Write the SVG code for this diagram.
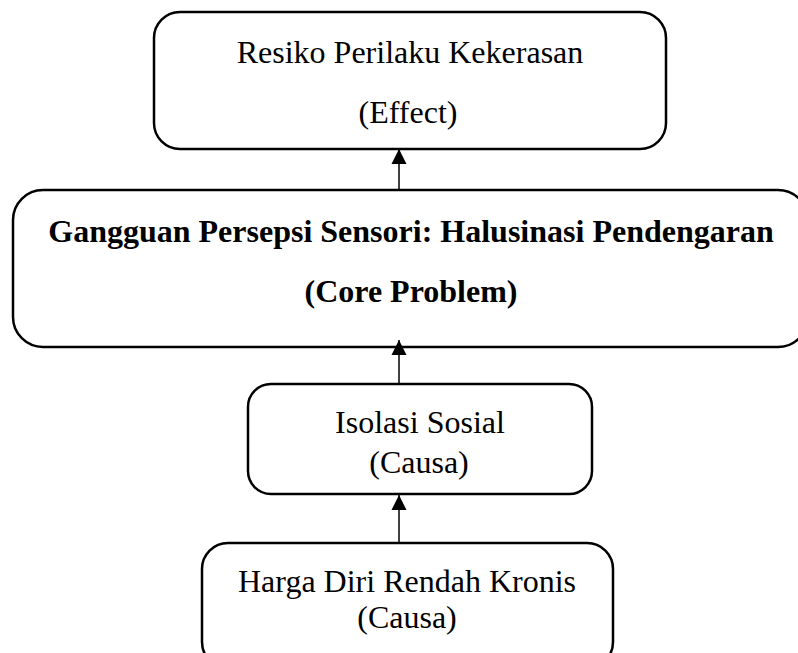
<svg xmlns="http://www.w3.org/2000/svg" width="798" height="653" viewBox="0 0 798 653">
<style>
.box{fill:#fff;stroke:#000;stroke-width:2.5}
.t{font-family:"Liberation Serif","Times New Roman",serif;font-size:32px;fill:#000;text-anchor:middle}
.b{font-weight:bold}
.c{stroke:#000;stroke-width:1.5;fill:none}
</style>
<defs>
<marker id="ah" markerUnits="userSpaceOnUse" markerWidth="16" markerHeight="16" viewBox="0 0 16 16" refX="15" refY="8" orient="auto">
<path d="M0,0.5 L15,8 L0,15.5 Z" fill="#000"/>
</marker>
</defs>
<rect width="798" height="653" fill="#fff"/>
<g id="effect">
<rect class="box" x="154" y="12" width="512" height="137" rx="26" ry="26"/>
<text class="t" x="410" y="63">Resiko Perilaku Kekerasan</text>
<text class="t" x="408" y="123">(Effect)</text>
</g>
<g id="core">
<rect class="box" x="13" y="190" width="795" height="157" rx="30" ry="30"/>
<text class="t b" x="411" y="242">Gangguan Persepsi Sensori: Halusinasi Pendengaran</text>
<text class="t b" x="411" y="302">(Core Problem)</text>
</g>
<g id="isolasi">
<rect class="box" x="248" y="384" width="344" height="110" rx="23" ry="23"/>
<text class="t" x="420" y="433">Isolasi Sosial</text>
<text class="t" x="419" y="473">(Causa)</text>
</g>
<g id="harga">
<rect class="box" x="202" y="543" width="411" height="125" rx="26" ry="26"/>
<text class="t" x="407" y="592">Harga Diri Rendah Kronis</text>
<text class="t" x="407" y="628">(Causa)</text>
</g>
<g id="connectors">
<line class="c" x1="399" y1="190" x2="399" y2="149" marker-end="url(#ah)"/>
<line class="c" x1="399" y1="383" x2="399" y2="340" marker-end="url(#ah)"/>
<line class="c" x1="399" y1="543" x2="399" y2="495" marker-end="url(#ah)"/>
</g>
</svg>
